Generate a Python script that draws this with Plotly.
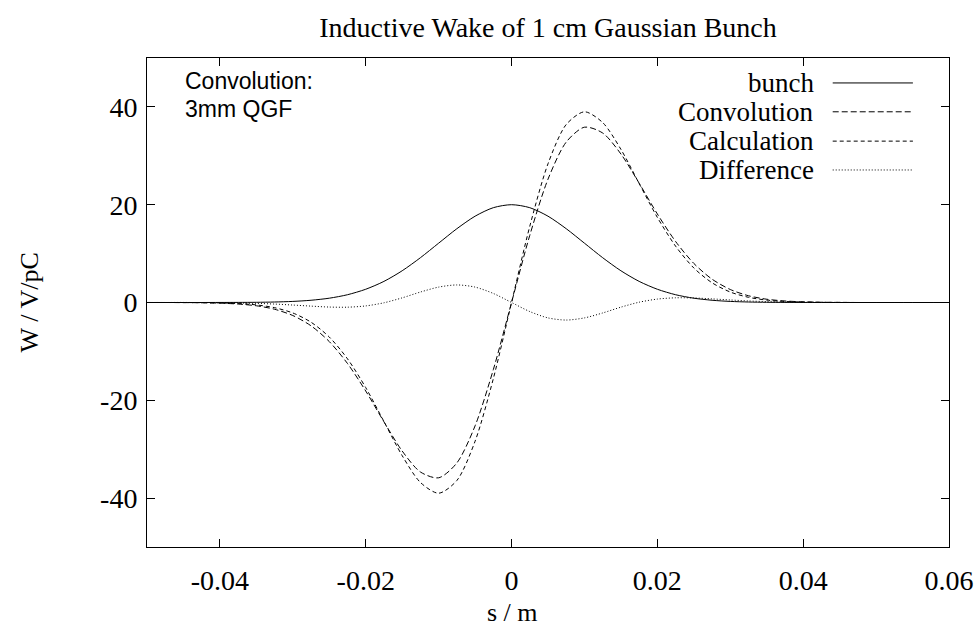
import plotly.graph_objects as go

s = [-0.05, -0.0475, -0.045, -0.0425, -0.04, -0.0375, -0.035, -0.0325, -0.03, -0.0275,
     -0.025, -0.0225, -0.02, -0.0175, -0.015, -0.0125, -0.01, -0.0075, -0.005, -0.0025,
     0.0, 0.0025, 0.005, 0.0075, 0.01, 0.0125, 0.015, 0.0175, 0.02, 0.0225,
     0.025, 0.0275, 0.03, 0.0325, 0.035, 0.0375, 0.04, 0.0425, 0.045, 0.0475,
     0.05, 0.0525, 0.055, 0.0575, 0.06]

bunch = [0, 0, 0, 0, 0.01, 0.02, 0.04, 0.10, 0.22, 0.46,
         0.88, 1.59, 2.71, 4.32, 6.49, 9.16, 12.13, 15.09, 17.65, 19.39,
         20.0, 19.39, 17.65, 15.09, 12.13, 9.16, 6.49, 4.32, 2.71, 1.59,
         0.88, 0.46, 0.22, 0.10, 0.04, 0.02, 0.01, 0, 0, 0,
         0, 0, 0, 0, 0]

convolution = [0, 0, -0.02, -0.05, -0.14, -0.31, -0.67, -1.38, -2.66, -4.77,
               -7.99, -12.48, -18.10, -24.40, -30.37, -34.66, -35.85, -32.81, -25.22, -13.73,
               0.0, 13.73, 25.22, 32.81, 35.85, 34.66, 30.37, 24.40, 18.10, 12.48,
               7.99, 4.77, 2.66, 1.38, 0.67, 0.31, 0.14, 0.05, 0.02, 0,
               0, 0, 0, 0, 0]

calculation = [0, 0, -0.01, -0.03, -0.09, -0.21, -0.49, -1.06, -2.14, -4.03,
               -7.06, -11.52, -17.40, -24.34, -31.32, -36.80, -39.00, -36.40, -28.37, -15.58,
               0.0, 15.58, 28.37, 36.40, 39.00, 36.80, 31.32, 24.34, 17.40, 11.52,
               7.06, 4.03, 2.14, 1.06, 0.49, 0.21, 0.09, 0.03, 0.01, 0,
               0, 0, 0, 0, 0]

difference = [0, 0, 0.01, -0.02, -0.05, -0.10, -0.18, -0.32, -0.52, -0.74,
              -0.93, -0.96, -0.70, -0.06, 0.95, 2.14, 3.15, 3.59, 3.15, 1.85,
              0.0, -1.85, -3.15, -3.59, -3.15, -2.14, -0.95, 0.06, 0.70, 0.96,
              0.93, 0.74, 0.52, 0.32, 0.18, 0.10, 0.05, 0.02, 0.01, 0,
              0, 0, 0, 0, 0]

series_names = ["bunch", "Convolution", "Calculation", "Difference"]
series_dash = ["solid", "6px,3px", "4px,3px", "1px,2px"]
series_vals = [bunch, convolution, calculation, difference]

x_ticks = [-0.04, -0.02, 0, 0.02, 0.04, 0.06]
x_tick_text = ["-0.04", "-0.02", "0", "0.02", "0.04", "0.06"]
y_ticks = [-40, -20, 0, 20, 40]
y_tick_text = ["-40", "-20", "0", "20", "40"]

SERIF = "Liberation Serif"
fig = go.Figure()
for name, vals, dash in zip(series_names, series_vals, series_dash):
    fig.add_trace(go.Scatter(x=s, y=vals, mode="lines", name=name,
                             line=dict(color="black", width=1, dash=dash, shape="spline", smoothing=0.8),
                             showlegend=False))

# gnuplot-style legend (text right-aligned, sample to the right)
row_y = [0.949, 0.890, 0.830, 0.771]
for name, dash, yy in zip(series_names, series_dash, row_y):
    fig.add_annotation(x=0.833, y=yy, xref="paper", yref="paper", text=name,
                       showarrow=False, xanchor="right", yanchor="middle", borderpad=0,
                       font=dict(family=SERIF, size=27, color="black"))
    fig.add_shape(type="line", xref="paper", yref="paper", x0=0.855, x1=0.955, y0=yy, y1=yy,
                  line=dict(color="black", width=1, dash=dash))

fig.add_annotation(x=0.046, y=0.953, xref="paper", yref="paper", text="Convolution:",
                   showarrow=False, xanchor="left", yanchor="middle", borderpad=0,
                   font=dict(family="Liberation Sans", size=23, color="black"))
fig.add_annotation(x=0.046, y=0.896, xref="paper", yref="paper", text="3mm QGF",
                   showarrow=False, xanchor="left", yanchor="middle", borderpad=0,
                   font=dict(family="Liberation Sans", size=23, color="black"))

fig.add_annotation(x=0.456, y=-0.133, xref="paper", yref="paper", text="s / m",
                   showarrow=False, xanchor="center", yanchor="middle",
                   font=dict(family=SERIF, size=26, color="black"))
fig.add_annotation(x=-0.146, y=0.5, xref="paper", yref="paper", text="W / V/pC",
                   showarrow=False, xanchor="center", yanchor="middle", textangle=-90,
                   font=dict(family=SERIF, size=26, color="black"))

axis_common = dict(showline=True, linecolor="black", linewidth=1, mirror="ticks",
                   ticks="inside", ticklen=8, tickcolor="black", tickwidth=1,
                   showgrid=False, zeroline=False, automargin=False,
                   tickfont=dict(family=SERIF, size=28, color="black"))

fig.update_layout(
    width=980, height=641,
    margin=dict(l=147, r=31, t=58, b=94),
    paper_bgcolor="white", plot_bgcolor="white",
    title=dict(text="Inductive Wake of 1 cm Gaussian Bunch", x=0.5, xref="paper",
               y=1 - 27 / 641, yref="container", xanchor="center", yanchor="middle",
               font=dict(family=SERIF, size=28, color="black")),
    xaxis=dict(range=[-0.05, 0.06], tickvals=x_ticks, ticktext=x_tick_text,
               ticklabelstandoff=8, **axis_common),
    yaxis=dict(range=[-50, 50], tickvals=y_ticks, ticktext=y_tick_text,
               ticklabelstandoff=3, **axis_common),
)

fig.write_html("out.html")
